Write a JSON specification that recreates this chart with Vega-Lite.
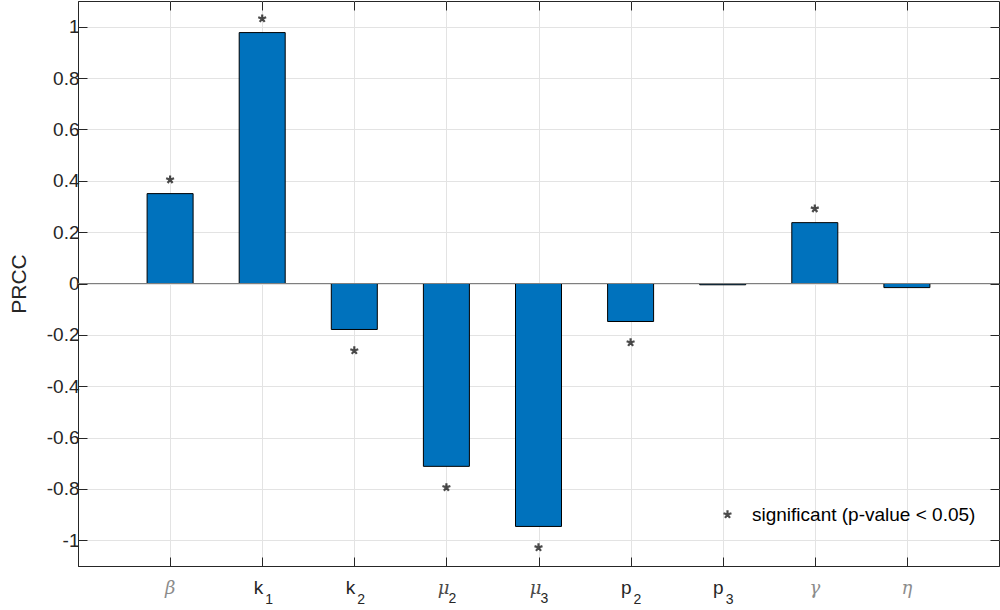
{
  "$schema": "https://vega.github.io/schema/vega-lite/v6.json",
  "width": 921,
  "height": 565,
  "autosize": {"type": "none"},
  "padding": {"left": 78, "top": 1, "right": 1, "bottom": 44},
  "background": "white",
  "config": {
    "view": {"stroke": "#262626", "strokeWidth": 1},
    "font": "Liberation Sans",
    "axis": {
      "domainColor": "#262626",
      "tickColor": "#262626",
      "labelColor": "#262626",
      "titleColor": "#262626",
      "gridColor": "#e3e3e3",
      "gridWidth": 1,
      "tickSize": -9,
      "labelFont": "Liberation Sans"
    }
  },
  "data": {
    "values": [
      {"param": "beta", "sym": "β", "sub": "", "prcc": 0.35, "sig": true},
      {"param": "k1", "sym": "k", "sub": "1", "prcc": 0.977, "sig": true},
      {"param": "k2", "sym": "k", "sub": "2", "prcc": -0.179, "sig": true},
      {"param": "mu2", "sym": "μ", "sub": "2", "prcc": -0.712, "sig": true},
      {"param": "mu3", "sym": "μ", "sub": "3", "prcc": -0.946, "sig": true},
      {"param": "p2", "sym": "p", "sub": "2", "prcc": -0.148, "sig": true},
      {"param": "p3", "sym": "p", "sub": "3", "prcc": -0.005, "sig": false},
      {"param": "gamma", "sym": "γ", "sub": "", "prcc": 0.237, "sig": true},
      {"param": "eta", "sym": "η", "sub": "", "prcc": -0.016, "sig": false}
    ]
  },
  "resolve": {"axis": {"x": "independent", "y": "independent"}},
  "layer": [
    {
      "mark": {"type": "bar", "width": 46, "fill": "#0072BD", "stroke": "#000000", "strokeWidth": 1},
      "encoding": {
        "x": {
          "field": "param",
          "type": "nominal",
          "sort": null,
          "scale": {"type": "point", "padding": 1},
          "axis": {"title": null, "labels": false, "grid": true}
        },
        "y": {
          "field": "prcc",
          "type": "quantitative",
          "scale": {"domain": [-1.1, 1.1], "nice": false, "zero": false},
          "axis": {
            "title": "PRCC",
            "titleFontSize": 21,
            "titleFontWeight": "normal",
            "titlePadding": 17,
            "labelFontSize": 19,
            "labelPadding": 8,
            "values": [-1, -0.8, -0.6, -0.4, -0.2, 0, 0.2, 0.4, 0.6, 0.8, 1],
            "labelExpr": "replace(format(datum.value, '~g'), '−', '-')",
            "grid": true
          }
        }
      }
    },
    {
      "mark": {"type": "rule", "color": "#7f7f7f", "strokeWidth": 1},
      "encoding": {
        "y": {"datum": 0, "type": "quantitative", "axis": null}
      }
    },
    {
      "transform": [{"filter": "datum.sig && datum.prcc > 0"}],
      "mark": {"type": "point", "filled": false, "stroke": "#000000", "strokeWidth": 2.2, "size": 70, "yOffset": -14},
      "encoding": {
        "x": {"field": "param", "type": "nominal", "sort": null,
          "axis": {"orient": "top", "labels": false, "title": null, "grid": false, "domain": false, "tickSize": -9}},
        "y": {"field": "prcc", "type": "quantitative",
          "axis": {"orient": "right", "labels": false, "title": null, "grid": false, "domain": false, "tickSize": -9,
            "values": [-1, -0.8, -0.6, -0.4, -0.2, 0, 0.2, 0.4, 0.6, 0.8, 1]}},
        "shape": {
          "datum": "significant (p-value < 0.05)",
          "type": "nominal",
          "scale": {"range": ["M0,0L0,-1M0,0L0.95,-0.31M0,0L0.59,0.81M0,0L-0.59,0.81M0,0L-0.95,-0.31"]},
          "legend": {
            "orient": "none",
            "legendX": 640,
            "legendY": 504,
            "title": null,
            "padding": 0,
            "labelFontSize": 19,
            "labelLimit": 500,
            "labelColor": "#000000",
            "labelFont": "Liberation Sans",
            "labelOffset": 15,
            "symbolStrokeColor": "#000000",
            "symbolFillColor": "transparent",
            "symbolStrokeWidth": 2.2,
            "symbolSize": 70
          }
        }
      }
    },
    {
      "transform": [{"filter": "datum.sig && datum.prcc < 0"}],
      "mark": {"type": "point", "filled": false, "stroke": "#000000", "strokeWidth": 2.2, "size": 70, "yOffset": 21},
      "encoding": {
        "x": {"field": "param", "type": "nominal", "sort": null, "axis": null},
        "y": {"field": "prcc", "type": "quantitative", "axis": null},
        "shape": {"datum": "significant (p-value < 0.05)", "type": "nominal"}
      }
    },
    {
      "transform": [{"filter": "indexof(['k','p'], datum.sym) >= 0"}],
      "mark": {"type": "text", "font": "Liberation Sans", "fontSize": 19, "color": "#262626", "align": "right", "baseline": "alphabetic", "dx": 1, "dy": 28},
      "encoding": {
        "x": {"field": "param", "type": "nominal", "sort": null, "axis": null},
        "y": {"datum": -1.1, "type": "quantitative", "axis": null},
        "text": {"field": "sym"}
      }
    },
    {
      "transform": [{"filter": "indexof(['k','p'], datum.sym) >= 0"}],
      "mark": {"type": "text", "font": "Liberation Sans", "fontSize": 14, "color": "#262626", "align": "left", "baseline": "alphabetic", "dx": 3, "dy": 38},
      "encoding": {
        "x": {"field": "param", "type": "nominal", "sort": null, "axis": null},
        "y": {"datum": -1.1, "type": "quantitative", "axis": null},
        "text": {"field": "sub"}
      }
    },
    {
      "transform": [{"filter": "datum.sym == 'μ'"}],
      "mark": {"type": "text", "font": "DejaVu Serif", "fontStyle": "italic", "fontSize": 18, "color": "#4a4a4a", "align": "right", "baseline": "alphabetic", "dx": 3, "dy": 28},
      "encoding": {
        "x": {"field": "param", "type": "nominal", "sort": null, "axis": null},
        "y": {"datum": -1.1, "type": "quantitative", "axis": null},
        "text": {"field": "sym"}
      }
    },
    {
      "transform": [{"filter": "datum.sym == 'μ'"}],
      "mark": {"type": "text", "font": "Liberation Sans", "fontSize": 14, "color": "#262626", "align": "left", "baseline": "alphabetic", "dx": 2, "dy": 37},
      "encoding": {
        "x": {"field": "param", "type": "nominal", "sort": null, "axis": null},
        "y": {"datum": -1.1, "type": "quantitative", "axis": null},
        "text": {"field": "sub"}
      }
    },
    {
      "transform": [{"filter": "datum.sub == ''"}],
      "mark": {"type": "text", "font": "DejaVu Serif", "fontStyle": "italic", "fontSize": 18, "color": "#8c8c8c", "align": "center", "baseline": "alphabetic", "dx": 0, "dy": 28},
      "encoding": {
        "x": {"field": "param", "type": "nominal", "sort": null, "axis": null},
        "y": {"datum": -1.1, "type": "quantitative", "axis": null},
        "text": {"field": "sym"}
      }
    }
  ]
}
